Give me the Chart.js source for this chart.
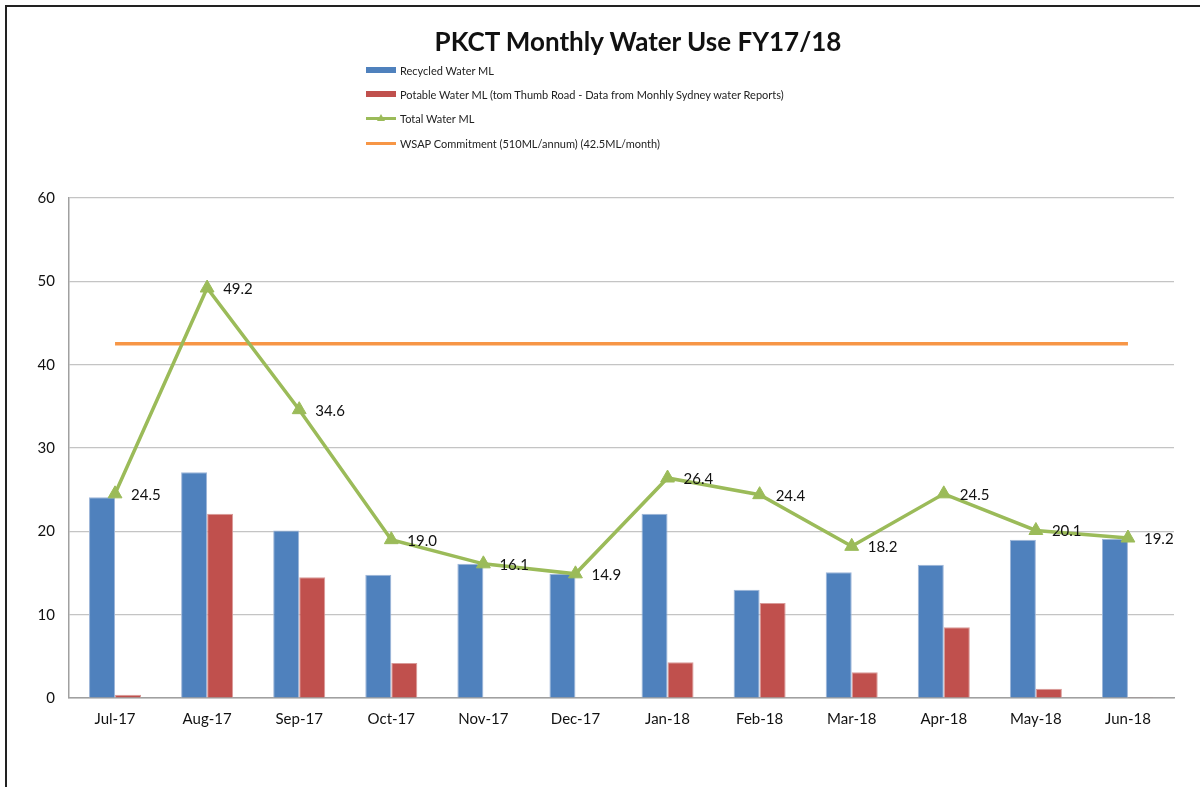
<!DOCTYPE html>
<html lang="en">
<head>
    <meta charset="UTF-8">
    <title>PKCT Monthly Water Use FY17/18</title>
    <script src="https://cdn.jsdelivr.net/npm/chart.js"></script>
    <style>
        body {
            margin: 0;
            font-family: Lato, "Open Sans", Arial, sans-serif;
            background: #fff;
        }
        #frame {
            position: absolute;
            left: 5px;
            top: 5px;
            width: 1195px;
            height: 782px;
            border-top: 2px solid #222;
            border-left: 2px solid #222;
        }
        #wrap {
            position: absolute;
            left: 0;
            top: 0;
            width: 1200px;
            height: 787px;
        }
        #title {
            position: absolute;
            top: 25px;
            left: 0;
            width: 1276px;
            text-align: center;
            font-size: 26px;
            font-weight: bold;
            color: #111;
        }
        #legend {
            position: absolute;
            left: 366px;
            top: 58px;
            font-size: 11px;
            color: #222;
        }
        .item {
            height: 24.3px;
            display: flex;
            align-items: center;
        }
        .mark {
            width: 30px;
            height: 16px;
            margin-right: 4px;
            position: relative;
        }
    </style>
</head>
<body>
    <div id="frame"></div>
    <div id="wrap"><canvas id="chart" width="1200" height="787"></canvas></div>
    <div id="title">PKCT Monthly Water Use FY17/18</div>
    <div id="legend"></div>

    <script>
        const months = ['Jul-17', 'Aug-17', 'Sep-17', 'Oct-17', 'Nov-17', 'Dec-17',
                        'Jan-18', 'Feb-18', 'Mar-18', 'Apr-18', 'May-18', 'Jun-18'];
        const recycled = [24.1, 27.1, 20.1, 14.8, 16.1, 14.9, 22.1, 13.0, 15.1, 16.0, 19.0, 19.1];
        const potable = [0.4, 22.1, 14.5, 4.2, 0, 0, 4.3, 11.4, 3.1, 8.5, 1.1, 0.1];
        const total = [24.5, 49.2, 34.6, 19.0, 16.1, 14.9, 26.4, 24.4, 18.2, 24.5, 20.1, 19.2];
        const wsap = [42.5, 42.5, 42.5, 42.5, 42.5, 42.5, 42.5, 42.5, 42.5, 42.5, 42.5, 42.5];
        const yTicks = [0, 10, 20, 30, 40, 50, 60];

        const tickFont = { family: 'Lato, "Open Sans", sans-serif', size: 15 };

        // labels to the right of each Total point
        const totalLabels = {
            id: 'totalLabels',
            afterDatasetsDraw(chart) {
                const ctx = chart.ctx;
                const meta = chart.getDatasetMeta(2);
                ctx.save();
                ctx.font = '15px Lato, "Open Sans", sans-serif';
                ctx.fillStyle = '#111';
                ctx.textAlign = 'left';
                ctx.textBaseline = 'middle';
                meta.data.forEach((pt, i) => {
                    ctx.fillText(total[i].toFixed(1), pt.x + 16, pt.y + 1);
                });
                ctx.restore();
            }
        };

        const chart = new Chart(document.getElementById('chart'), {
            type: 'bar',
            data: {
                labels: months,
                datasets: [
                    {
                        label: 'Recycled Water ML',
                        data: recycled,
                        backgroundColor: '#4f81bd',
                        borderColor: '#9db5d8',
                        borderWidth: 1,
                        categoryPercentage: 0.565,
                        barPercentage: 1.0,
                        order: 3
                    },
                    {
                        label: 'Potable Water ML (tom Thumb Road - Data from Monhly Sydney water Reports)',
                        data: potable,
                        backgroundColor: '#c0504d',
                        borderColor: '#d99a98',
                        borderWidth: 1,
                        categoryPercentage: 0.565,
                        barPercentage: 1.0,
                        order: 3
                    },
                    {
                        type: 'line',
                        label: 'Total Water ML',
                        data: total,
                        borderColor: '#9bbb59',
                        backgroundColor: '#9bbb59',
                        borderWidth: 3.5,
                        pointStyle: 'triangle',
                        pointRadius: 8,
                        pointBorderWidth: 1,
                        tension: 0,
                        order: 1
                    },
                    {
                        type: 'line',
                        label: 'WSAP Commitment (510ML/annum) (42.5ML/month)',
                        data: wsap,
                        borderColor: '#f79646',
                        backgroundColor: '#f79646',
                        borderWidth: 3.5,
                        pointRadius: 0,
                        order: 2
                    }
                ]
            },
            options: {
                responsive: false,
                animation: false,
                layout: { padding: { top: 198, right: 26, bottom: 0, left: 0 } },
                plugins: {
                    legend: { display: false },
                    title: { display: false },
                    tooltip: { enabled: false }
                },
                scales: {
                    x: {
                        grid: { display: false, drawTicks: false },
                        border: { color: '#a0a0a0', width: 1.5 },
                        ticks: { color: '#111', font: tickFont, padding: 12, maxRotation: 0 },
                        afterFit(scale) { scale.height = 89; }
                    },
                    y: {
                        min: 0,
                        max: 60,
                        afterBuildTicks(scale) { scale.ticks = yTicks.map(v => ({ value: v })); },
                        grid: { color: '#c4c4c4', lineWidth: 1.2, drawTicks: false },
                        border: { color: '#a0a0a0', width: 1.5 },
                        ticks: { color: '#111', font: tickFont, padding: 14 },
                        afterFit(scale) { scale.width = 69; }
                    }
                }
            },
            plugins: [totalLabels]
        });

        // vertical legend like the original
        const legend = document.getElementById('legend');
        chart.data.datasets.forEach((ds, i) => {
            const item = document.createElement('div');
            item.className = 'item';
            const mark = document.createElement('div');
            mark.className = 'mark';
            if (ds.type === 'line') {
                mark.innerHTML = '<div style="position:absolute;left:0;top:6.5px;width:30px;height:3px;background:' + ds.borderColor + '"></div>';
                if (ds.pointStyle === 'triangle') {
                    mark.innerHTML += '<div style="position:absolute;left:11px;top:3px;width:0;height:0;border-left:4px solid transparent;border-right:4px solid transparent;border-bottom:7px solid ' + ds.borderColor + '"></div>';
                }
            } else {
                mark.innerHTML = '<div style="position:absolute;left:0;top:5px;width:30px;height:6px;background:' + ds.backgroundColor + '"></div>';
            }
            const txt = document.createElement('span');
            txt.textContent = ds.label;
            item.appendChild(mark);
            item.appendChild(txt);
            legend.appendChild(item);
        });
    </script>
</body>
</html>
